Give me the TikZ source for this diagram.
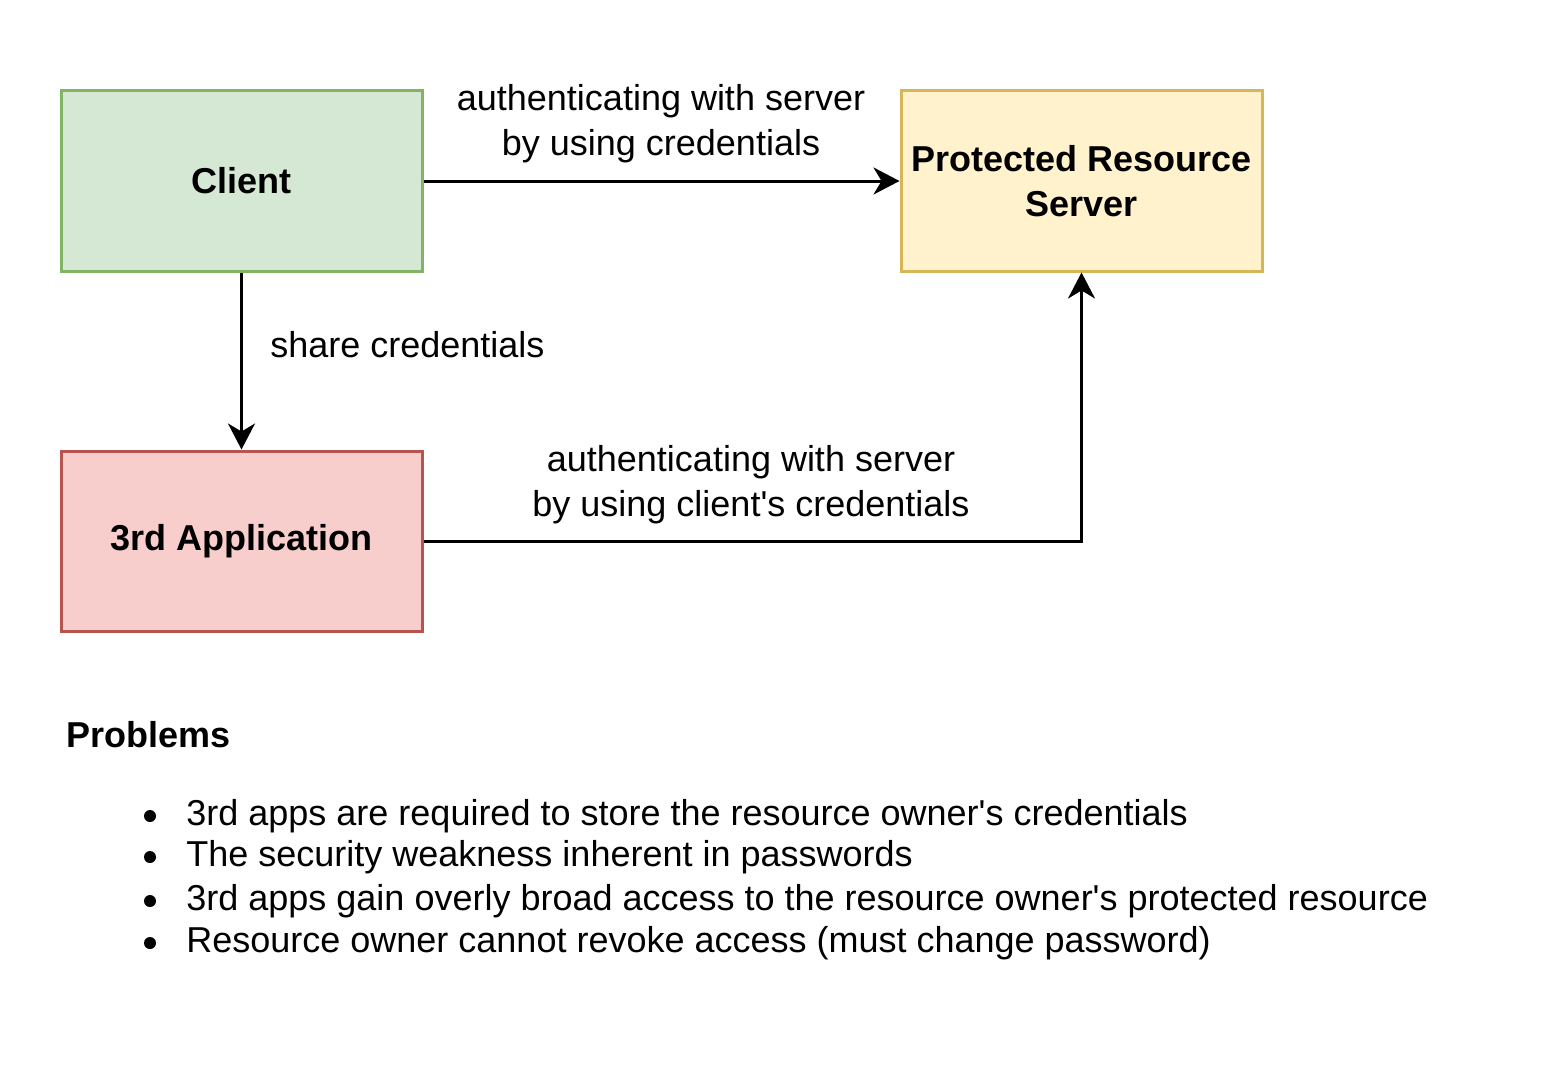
\documentclass[tikz,border=0pt]{standalone}
\usepackage{fontspec}
\setmainfont{Liberation Sans}
\usetikzlibrary{arrows.meta}
\definecolor{gfill}{HTML}{D5E8D4}\definecolor{gdraw}{HTML}{82B366}
\definecolor{yfill}{HTML}{FFF2CC}\definecolor{ydraw}{HTML}{D6B656}
\definecolor{rfill}{HTML}{F8CECC}\definecolor{rdraw}{HTML}{B85450}
\tikzset{
  box/.style={draw, line width=1.5pt, minimum width=180.5pt, minimum height=90pt, align=center, inner sep=2pt, font=\fontsize{18}{22.5}\selectfont\bfseries},
  conn/.style={line width=1.5pt, -{Stealth[length=13pt,width=13.5pt,inset=4pt]}},
  lbl/.style={inner sep=0pt, font=\fontsize{18}{22.5}\selectfont},
  bul/.style={circle, fill=black, inner sep=0pt, minimum size=6pt},
}
\begin{document}
\begin{tikzpicture}[x=0.5pt,y=-0.5pt]
\useasboundingbox (0,0) rectangle (1566,1086);
\node[box, fill=gfill, draw=gdraw] (client) at (241.5,181) {Client};
\node[box, fill=yfill, draw=ydraw] (prs) at (1081.5,181) {Protected Resource\\Server};
\node[box, fill=rfill, draw=rdraw] (third) at (241.5,541) {3rd Application};
\draw[conn] (client.east) -- (prs.west);
\draw[conn] (client.south) -- (third.north);
\draw[conn] (third.east) -| (prs.south);
\node[lbl, anchor=base] (l1) at (661,111) {\begin{tabular}[t]{@{}c@{}}authenticating with server\\by using credentials\end{tabular}};
\node[lbl, anchor=base west] (l2) at (270,357) {share credentials};
\node[lbl, anchor=base] (l3) at (751,471) {\begin{tabular}[t]{@{}c@{}}authenticating with server\\by using client\textquotesingle s credentials\end{tabular}};
\node[lbl, anchor=base west, font=\fontsize{18}{22.5}\selectfont\bfseries] (prob) at (66,747) {Problems};
\node[bul] (b1) at (150,816) {};
\node[bul] (b2) at (150,857) {};
\node[bul] (b3) at (150,901) {};
\node[bul] (b4) at (150,943) {};
\node[lbl, anchor=base west] (t1) at (186,825) {3rd apps are required to store the resource owner\textquotesingle s credentials};
\node[lbl, anchor=base west] (t2) at (186,866) {The security weakness inherent in passwords};
\node[lbl, anchor=base west] (t3) at (186,910) {3rd apps gain overly broad access to the resource owner\textquotesingle s protected resource};
\node[lbl, anchor=base west] (t4) at (186,952) {Resource owner cannot revoke access (must change password)};
\end{tikzpicture}
\end{document}
